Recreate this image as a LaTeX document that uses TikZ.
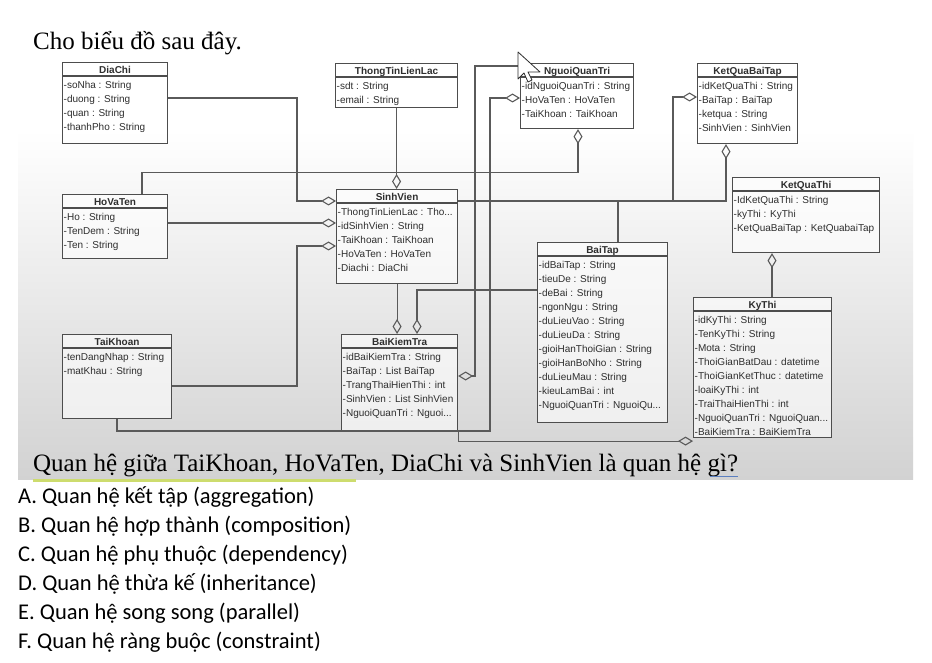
\documentclass[tikz,border=0pt]{standalone}
\usepackage{fontspec}
\setmainfont{Liberation Serif}
\newfontfamily\umlfont{Liberation Sans}
\newfontfamily\answerfont{Carlito}
\usetikzlibrary{arrows.meta, calc}

\definecolor{boxgray}{HTML}{4D4D4D}
\definecolor{linegray}{HTML}{5A5A5A}
\definecolor{textgray}{HTML}{2E2E2E}
\definecolor{panelgray}{HTML}{D2D2D2}
\definecolor{markgreen}{HTML}{CDDC6E}
\definecolor{spellblue}{HTML}{5B7FC0}

\begin{document}
\begin{tikzpicture}[
    x=1pt, y=-1pt, % one unit = one pixel of the screenshot, y runs downwards
    >={Diamond[open, length=15pt, width=9pt]}, % hollow aggregation diamond
    umlbox/.style={draw=boxgray, line width=1.1pt, fill=white, fill opacity=0.6, anchor=north west, inner sep=0pt}, % class frame
    umltitle/.style={font=\umlfont\bfseries\fontsize{10}{12}\selectfont, text=textgray, anchor=base, inner sep=0pt}, % class name
    umlattrs/.style={font=\umlfont\fontsize{10}{14}\selectfont, text=textgray, align=left, anchor=north west, inner xsep=1.5pt, inner ysep=5pt}, % attribute list
    umlline/.style={draw=boxgray, line width=1.1pt}, % line under the class name
    agg/.style={->, draw=linegray, line width=1.1pt, line join=miter}, % aggregation connector
    answer/.style={font=\answerfont\fontsize{22.5}{26}\selectfont, anchor=base west, inner sep=0pt}
]
    \useasboundingbox (0,0) rectangle (932,663);

    % === Screenshot panel ===
    \fill[white] (0,0) rectangle (932,663);
    \shade[top color=white, bottom color=panelgray] (18,130) rectangle (913,479);

    % === Heading and question ===
    \node[font=\fontsize{25}{29}\selectfont, anchor=base west, inner sep=0pt] (heading) at (33,50) {Cho biểu đồ sau đây.};
    \node[font=\fontsize{25}{29}\selectfont, anchor=base west, inner sep=0pt] (question) at (33,471) {Quan hệ giữa TaiKhoan, HoVaTen, DiaChi và SinhVien là quan hệ gì?};
    \draw[markgreen, line width=3pt] ($(question.base west)+(0,9)$) -- ++(323,0);
    \draw[spellblue, line width=0.8pt] ($(question.base east)+(-28,5)$) -- ($(question.base east)+(0,5)$);

    % === Classes ===
    % DiaChi
    \node[umlbox, minimum width=105, minimum height=81] (DiaChi) at (62,62) {};
    \node[umltitle] (DiaChi-title) at ($(DiaChi.north)+(0,11.5)$) {DiaChi};
    \draw[umlline] ($(DiaChi.north west)+(0,14)$) -- ($(DiaChi.north east)+(0,14)$);
    \node[umlattrs] (DiaChi-attrs) at ($(DiaChi.north west)+(0,14)$) {-soNha : String\\-duong : String\\-quan : String\\-thanhPho : String};

    % ThongTinLienLac
    \node[umlbox, minimum width=122, minimum height=44] (ThongTinLienLac) at (335,63) {};
    \node[umltitle] (ThongTinLienLac-title) at ($(ThongTinLienLac.north)+(0,11.5)$) {ThongTinLienLac};
    \draw[umlline] ($(ThongTinLienLac.north west)+(0,14)$) -- ($(ThongTinLienLac.north east)+(0,14)$);
    \node[umlattrs] (ThongTinLienLac-attrs) at ($(ThongTinLienLac.north west)+(0,14)$) {-sdt : String\\-email : String};

    % NguoiQuanTri
    \node[umlbox, minimum width=113, minimum height=65] (NguoiQuanTri) at (520,63) {};
    \node[umltitle] (NguoiQuanTri-title) at ($(NguoiQuanTri.north)+(0,11.5)$) {NguoiQuanTri};
    \draw[umlline] ($(NguoiQuanTri.north west)+(0,14)$) -- ($(NguoiQuanTri.north east)+(0,14)$);
    \node[umlattrs] (NguoiQuanTri-attrs) at ($(NguoiQuanTri.north west)+(0,14)$) {-idNguoiQuanTri : String\\-HoVaTen : HoVaTen\\-TaiKhoan : TaiKhoan};

    % KetQuaBaiTap
    \node[umlbox, minimum width=100, minimum height=80] (KetQuaBaiTap) at (697,63) {};
    \node[umltitle] (KetQuaBaiTap-title) at ($(KetQuaBaiTap.north)+(0,11.5)$) {KetQuaBaiTap};
    \draw[umlline] ($(KetQuaBaiTap.north west)+(0,14)$) -- ($(KetQuaBaiTap.north east)+(0,14)$);
    \node[umlattrs] (KetQuaBaiTap-attrs) at ($(KetQuaBaiTap.north west)+(0,14)$) {-idKetQuaThi : String\\-BaiTap : BaiTap\\-ketqua : String\\-SinhVien : SinhVien};

    % KetQuaThi
    \node[umlbox, minimum width=147, minimum height=75] (KetQuaThi) at (732,177) {};
    \node[umltitle] (KetQuaThi-title) at ($(KetQuaThi.north)+(0,11.5)$) {KetQuaThi};
    \draw[umlline] ($(KetQuaThi.north west)+(0,14)$) -- ($(KetQuaThi.north east)+(0,14)$);
    \node[umlattrs] (KetQuaThi-attrs) at ($(KetQuaThi.north west)+(0,14)$) {-IdKetQuaThi : String\\-kyThi : KyThi\\-KetQuaBaiTap : KetQuabaiTap};

    % HoVaTen
    \node[umlbox, minimum width=105, minimum height=64] (HoVaTen) at (62,194) {};
    \node[umltitle] (HoVaTen-title) at ($(HoVaTen.north)+(0,11.5)$) {HoVaTen};
    \draw[umlline] ($(HoVaTen.north west)+(0,14)$) -- ($(HoVaTen.north east)+(0,14)$);
    \node[umlattrs] (HoVaTen-attrs) at ($(HoVaTen.north west)+(0,14)$) {-Ho : String\\-TenDem : String\\-Ten : String};

    % SinhVien
    \node[umlbox, minimum width=121, minimum height=94] (SinhVien) at (336,189) {};
    \node[umltitle] (SinhVien-title) at ($(SinhVien.north)+(0,11.5)$) {SinhVien};
    \draw[umlline] ($(SinhVien.north west)+(0,14)$) -- ($(SinhVien.north east)+(0,14)$);
    \node[umlattrs] (SinhVien-attrs) at ($(SinhVien.north west)+(0,14)$) {-ThongTinLienLac : Tho...\\-idSinhVien : String\\-TaiKhoan : TaiKhoan\\-HoVaTen : HoVaTen\\-Diachi : DiaChi};

    % TaiKhoan
    \node[umlbox, minimum width=109, minimum height=84] (TaiKhoan) at (62,334) {};
    \node[umltitle] (TaiKhoan-title) at ($(TaiKhoan.north)+(0,11.5)$) {TaiKhoan};
    \draw[umlline] ($(TaiKhoan.north west)+(0,14)$) -- ($(TaiKhoan.north east)+(0,14)$);
    \node[umlattrs] (TaiKhoan-attrs) at ($(TaiKhoan.north west)+(0,14)$) {-tenDangNhap : String\\-matKhau : String};

    % BaiKiemTra
    \node[umlbox, minimum width=116, minimum height=96] (BaiKiemTra) at (341,334) {};
    \node[umltitle] (BaiKiemTra-title) at ($(BaiKiemTra.north)+(0,11.5)$) {BaiKiemTra};
    \draw[umlline] ($(BaiKiemTra.north west)+(0,14)$) -- ($(BaiKiemTra.north east)+(0,14)$);
    \node[umlattrs] (BaiKiemTra-attrs) at ($(BaiKiemTra.north west)+(0,14)$) {-idBaiKiemTra : String\\-BaiTap : List BaiTap\\-TrangThaiHienThi : int\\-SinhVien : List SinhVien\\-NguoiQuanTri : Nguoi...};

    % BaiTap
    \node[umlbox, minimum width=130, minimum height=180] (BaiTap) at (537,242) {};
    \node[umltitle] (BaiTap-title) at ($(BaiTap.north)+(0,11.5)$) {BaiTap};
    \draw[umlline] ($(BaiTap.north west)+(0,14)$) -- ($(BaiTap.north east)+(0,14)$);
    \node[umlattrs] (BaiTap-attrs) at ($(BaiTap.north west)+(0,14)$) {-idBaiTap : String\\-tieuDe : String\\-deBai : String\\-ngonNgu : String\\-duLieuVao : String\\-duLieuDa : String\\-gioiHanThoiGian : String\\-gioiHanBoNho : String\\-duLieuMau : String\\-kieuLamBai : int\\-NguoiQuanTri : NguoiQu...};

    % KyThi
    \node[umlbox, minimum width=138, minimum height=140] (KyThi) at (693,297) {};
    \node[umltitle] (KyThi-title) at ($(KyThi.north)+(0,11.5)$) {KyThi};
    \draw[umlline] ($(KyThi.north west)+(0,14)$) -- ($(KyThi.north east)+(0,14)$);
    \node[umlattrs] (KyThi-attrs) at ($(KyThi.north west)+(0,14)$) {-idKyThi : String\\-TenKyThi : String\\-Mota : String\\-ThoiGianBatDau : datetime\\-ThoiGianKetThuc : datetime\\-loaiKyThi : int\\-TraiThaiHienThi : int\\-NguoiQuanTri : NguoiQuan...\\-BaiKiemTra : BaiKiemTra};

    % === Aggregations into SinhVien ===
    \draw[agg] ($(DiaChi.north east)+(0,36)$) -| ($(SinhVien.north west)+(-39,12)$) -- ($(SinhVien.north west)+(0,12)$);
    \draw[agg] ($(HoVaTen.north east)+(0,29)$) -- ($(SinhVien.north west)+(0,34)$);
    \draw[agg] ($(TaiKhoan.north east)+(0,52)$) -| ($(SinhVien.north west)+(-39,57)$) -- ($(SinhVien.north west)+(0,57)$);
    \draw[agg] (ThongTinLienLac.south) -- (ThongTinLienLac.south |- SinhVien.north);

    % === Aggregations into NguoiQuanTri ===
    \draw[agg] ($(HoVaTen.north west)+(80,0)$) |- ($(NguoiQuanTri.south west)+(58,43)$) -- ($(NguoiQuanTri.south west)+(58,0)$);
    \draw[agg] ($(TaiKhoan.south west)+(55,0)$) |- (490,431) |- ($(NguoiQuanTri.north west)+(0,35)$);

    % === Aggregations into BaiKiemTra ===
    \draw[agg] (SinhVien.south) -- (SinhVien.south |- BaiKiemTra.north);
    \draw[agg] ($(BaiTap.north west)+(0,48)$) -| ($(BaiKiemTra.north west)+(76,0)$);
    \draw[agg] ($(NguoiQuanTri.north west)+(0,3)$) -| (475,376) -- ($(BaiKiemTra.north east)+(0,42)$);

    % === Aggregations into KetQuaBaiTap ===
    \draw[agg] ($(SinhVien.north east)+(0,12)$) -| ($(KetQuaBaiTap.south west)+(29,0)$);
    \draw[agg] ($(BaiTap.north west)+(81,0)$) |- (673,201) |- ($(KetQuaBaiTap.north west)+(0,34)$);

    % === KyThi and KetQuaThi ===
    \draw[agg] (BaiKiemTra.south east) |- ($(KyThi.south west)+(0,3)$);
    \draw[agg] ($(KyThi.north west)+(79,0)$) -- ($(KetQuaThi.south west)+(40,0)$);

    % === Mouse pointer ===
    \filldraw[fill=white, draw=textgray, line width=0.8pt, line join=round]
        (518,52) -- (518,79) -- (524,73) -- (528,82) -- (532,80) -- (528,72) -- (540,72) -- cycle;

    % === Answers ===
    \node[answer] (ansA) at (18,503) {A. Quan hệ kết tập (aggregation)};
    \node[answer] (ansB) at (18,532) {B. Quan hệ hợp thành (composition)};
    \node[answer] (ansC) at (18,561) {C. Quan hệ phụ thuộc (dependency)};
    \node[answer] (ansD) at (18,590) {D. Quan hệ thừa kế (inheritance)};
    \node[answer] (ansE) at (18,619) {E. Quan hệ song song (parallel)};
    \node[answer] (ansF) at (18,648) {F. Quan hệ ràng buộc (constraint)};

\end{tikzpicture}
\end{document}
